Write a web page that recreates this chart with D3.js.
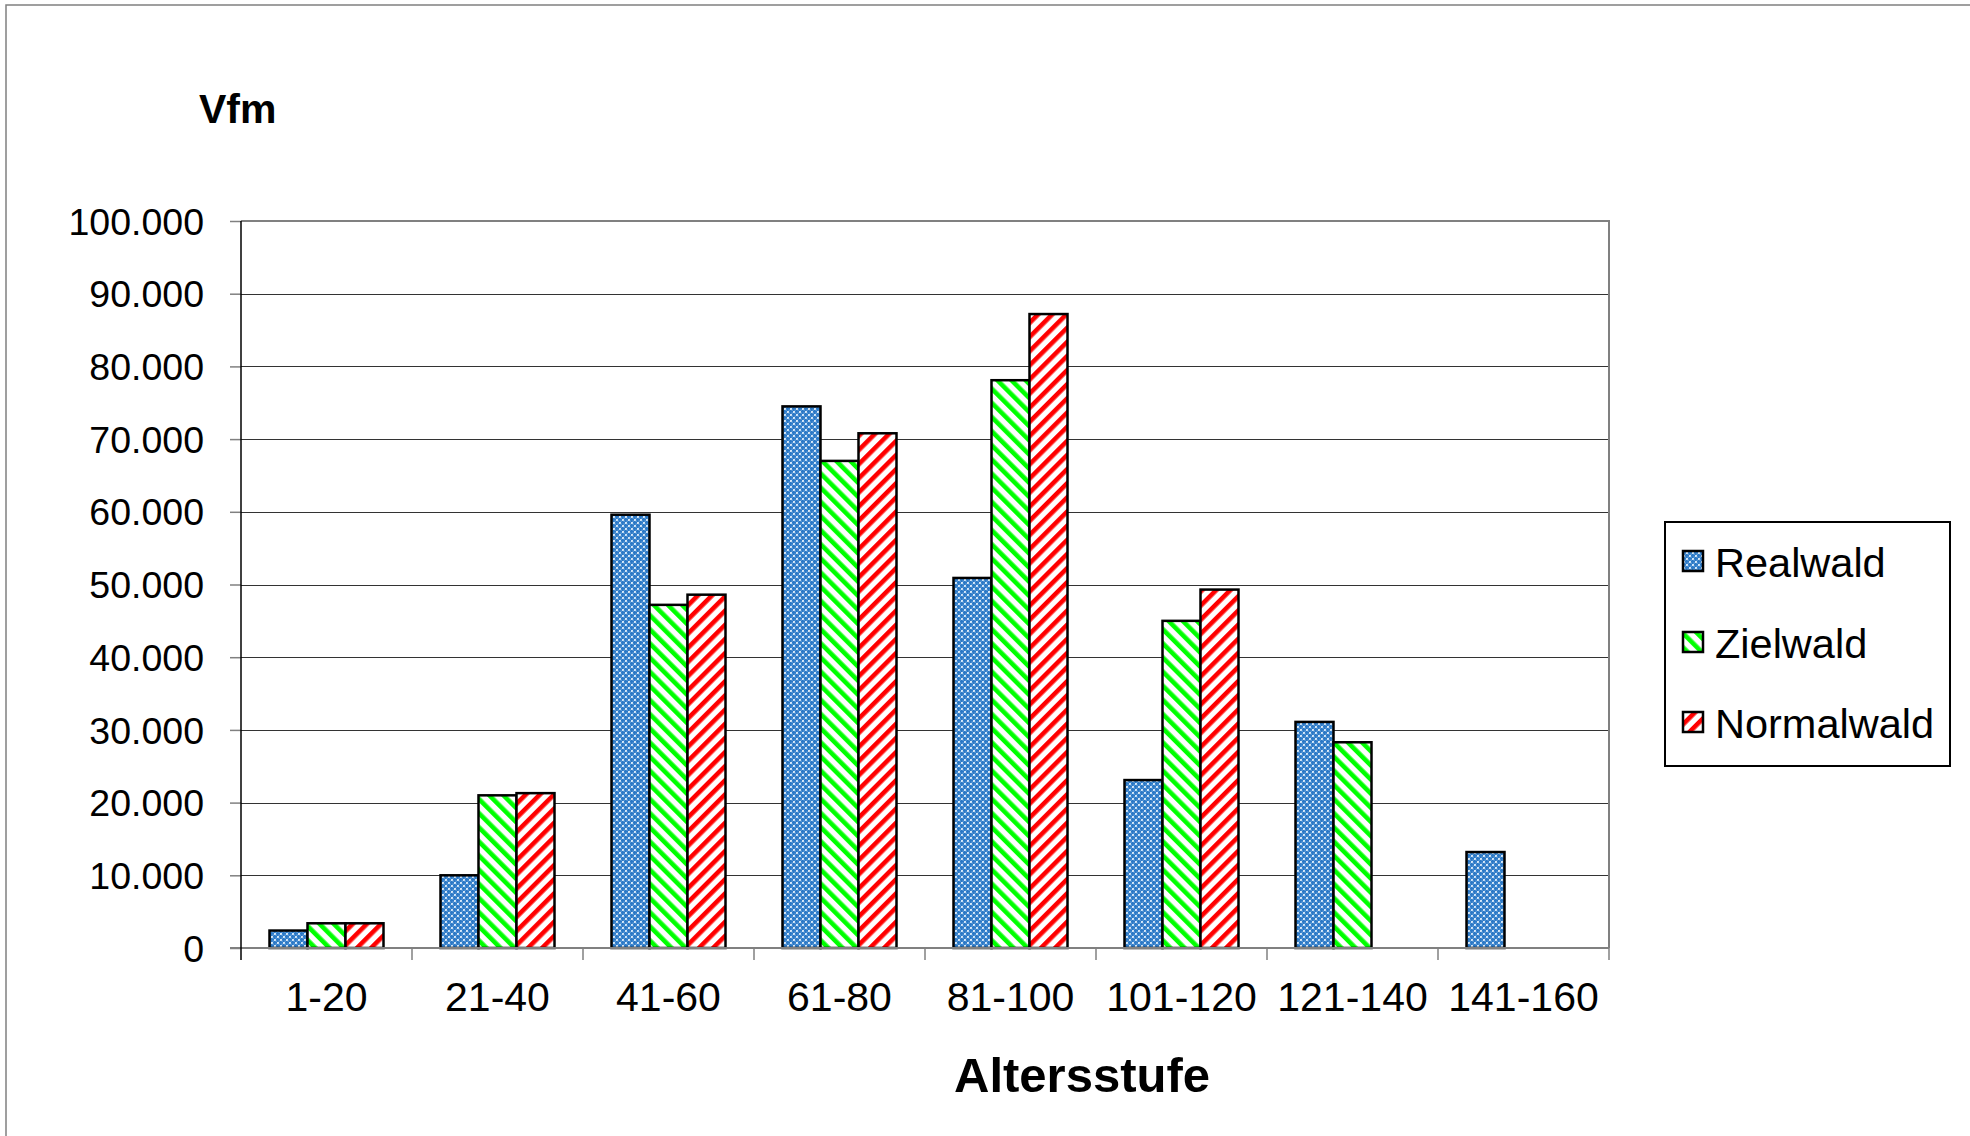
<!DOCTYPE html>
<html><head><meta charset="utf-8">
<script src="https://cdn.jsdelivr.net/npm/d3@7"></script>
<style>body{margin:0;background:#fff}svg{display:block}text{font-family:Arial,"Liberation Sans",sans-serif}</style>
</head><body><svg id="c" width="1970" height="1136"></svg>
<script>
const categories = ["1-20","21-40","41-60","61-80","81-100","101-120","121-140","141-160"];
const seriesNames = ["Realwald","Zielwald","Normalwald"];
const realwald   = [2400, 10000, 59600, 74500, 50900, 23100, 31100, 13200];
const zielwald   = [3400, 21000, 47200, 67000, 78100, 45000, 28300, 0];
const normalwald = [3400, 21300, 48600, 70800, 87200, 49300, 0, 0];
const yTicks = [0,10000,20000,30000,40000,50000,60000,70000,80000,90000,100000];
const yTickLabels = ["0","10.000","20.000","30.000","40.000","50.000","60.000","70.000","80.000","90.000","100.000"];

const seriesValues = [realwald, zielwald, normalwald];
const svg = d3.select("#c");
const W=1970,H=1136;
const L=241,R=1609,T=221,B=948;

// outer border
svg.append("rect").attr("x",6).attr("y",5).attr("width",W).attr("height",H+10)
  .attr("fill","none").attr("stroke","#808080").attr("stroke-width",1.5);

// patterns
const defs = svg.append("defs");
const pb = defs.append("pattern").attr("id","pBlue").attr("patternUnits","userSpaceOnUse")
  .attr("width",6).attr("height",6);
pb.append("rect").attr("width",6).attr("height",6).attr("fill","#2a78c6");
[[0,0],[3,3]].forEach(([x,y])=>pb.append("rect").attr("x",x).attr("y",y).attr("width",2).attr("height",2).attr("fill","#d4e6f7"));
[[1.5,1.5],[4.5,4.5],[1.5,4.5],[4.5,1.5]].forEach(([x,y])=>pb.append("rect").attr("x",x).attr("y",y).attr("width",1.2).attr("height",1.2).attr("fill","#7fb1e2"));
function stripes(id,color,angle){
  const p = defs.append("pattern").attr("id",id).attr("patternUnits","userSpaceOnUse")
    .attr("width",10).attr("height",10).attr("patternTransform","rotate("+angle+")");
  p.append("rect").attr("width",10).attr("height",10).attr("fill","#fff");
  p.append("rect").attr("width",4.6).attr("height",10).attr("fill",color);
}
stripes("pGreen","#00ff00",-45);
stripes("pRed","#ff0000",45);
const fills = ["url(#pBlue)","url(#pGreen)","url(#pRed)"];

const x = d3.scaleBand().domain(categories).range([L,R]).paddingInner(0).paddingOuter(0);
const xs = d3.scaleBand().domain(d3.range(3)).range([0,x.bandwidth()]).paddingInner(0).paddingOuter(0.75);
const y = d3.scaleLinear().domain([0,100000]).range([B,T]);

// gridlines
svg.append("g").selectAll("line").data(yTicks.filter(v=>v>0 && v<100000)).join("line")
  .attr("x1",L).attr("x2",R).attr("y1",d=>Math.round(y(d))+0.5).attr("y2",d=>Math.round(y(d))+0.5)
  .attr("stroke","#333").attr("stroke-width",1.2);
// plot frame top/right
svg.append("path").attr("d",`M${L},${T}H${R}V${B}`).attr("fill","none").attr("stroke","#808080").attr("stroke-width",2);

// y axis
const yAxis = d3.axisLeft(y).tickValues(yTicks).tickFormat((d,i)=>yTickLabels[i]).tickSize(11).tickPadding(26);
const gy = svg.append("g").attr("transform",`translate(${L},0)`).call(yAxis);
gy.select(".domain").remove();
gy.selectAll(".tick line").attr("stroke","#808080").attr("stroke-width",1.5);
gy.selectAll("text").attr("font-size",37.5).attr("fill","#000").attr("font-family","Arial,'Liberation Sans',sans-serif").attr("dy","0.35em");

// bars
const groups = svg.append("g").selectAll("g").data(categories).join("g")
  .attr("transform",d=>`translate(${x(d)},0)`);
groups.selectAll("rect").data((d,i)=>seriesValues.map((s,k)=>({k,v:s[i]})).filter(o=>o.v>0)).join("rect")
  .attr("x",o=>xs(o.k)).attr("width",xs.bandwidth())
  .attr("y",o=>y(o.v)).attr("height",o=>B-y(o.v))
  .attr("fill",o=>fills[o.k]).attr("stroke","#000").attr("stroke-width",2.5);

// x axis
const xAxis = d3.axisBottom(x).tickSize(0).tickPadding(0);
const gx = svg.append("g").attr("transform",`translate(0,${B})`).call(xAxis);
gx.select(".domain").remove();
gx.selectAll("text").attr("font-size",41).attr("fill","#000").attr("font-family","Arial,'Liberation Sans',sans-serif").attr("y",63).attr("dy","0");
svg.append("line").attr("x1",L-11).attr("x2",R).attr("y1",B).attr("y2",B).attr("stroke","#808080").attr("stroke-width",2);
const bounds = categories.map(c=>x(c)).concat([R]);
svg.append("g").selectAll("line").data(bounds.slice(1)).join("line")
  .attr("x1",d=>d).attr("x2",d=>d).attr("y1",B).attr("y2",B+12).attr("stroke","#808080").attr("stroke-width",1.5);
// left axis
svg.append("line").attr("x1",L).attr("x2",L).attr("y1",T).attr("y2",B+12).attr("stroke","#000").attr("stroke-width",1.5);

// titles
svg.append("text").attr("x",199).attr("y",123).attr("font-size",41).attr("font-weight","bold").text("Vfm");
svg.append("text").attr("x",1082).attr("y",1092).attr("text-anchor","middle").attr("font-size",49).attr("font-weight","bold").text("Altersstufe");

// legend
const lg = svg.append("g");
lg.append("rect").attr("x",1665).attr("y",522).attr("width",285).attr("height",244).attr("fill","#fff").attr("stroke","#000").attr("stroke-width",2);
const rows = [562,643,723];
seriesNames.forEach((n,k)=>{
  lg.append("rect").attr("x",1683).attr("y",rows[k]-11).attr("width",20).attr("height",20)
    .attr("fill",fills[k]).attr("stroke","#000").attr("stroke-width",2.5);
  lg.append("text").attr("x",1715).attr("y",rows[k]).attr("dy","0.35em").attr("font-size",41.5).text(n);
});
</script></body></html>
